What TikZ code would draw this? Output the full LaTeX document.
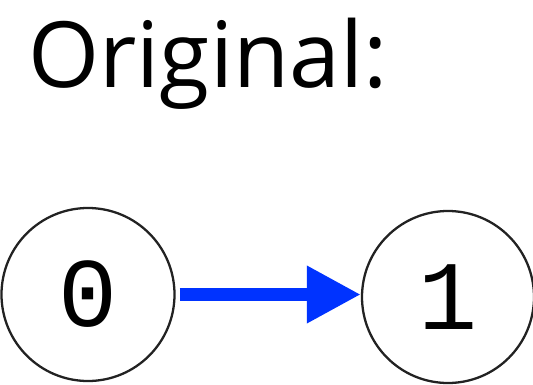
\documentclass[tikz,border=0pt]{standalone}
\usepackage{fontspec}
\setmainfont{Open Sans}
\newfontfamily\digitfont{Liberation Mono}
\usepackage{tikz}
\usetikzlibrary{arrows.meta, shapes, positioning, calc}

\definecolor{edgeblue}{RGB}{0,51,255}
\definecolor{ringgray}{RGB}{34,34,34}

\begin{document}
\begin{tikzpicture}[>={Triangle[length=1.08cm,width=1.08cm]},
            state/.style={circle, draw=ringgray, line width=1.3pt, fill=white, inner sep=0pt,
                          font=\digitfont\fontsize{56}{56}\selectfont}]
            \useasboundingbox (0,0) rectangle (10.66,-7.68);

            \node [anchor=base west, inner sep=0pt, font=\fontsize{52}{52}\selectfont] at (0.56,-1.74) (title) {Original:};

             \node [state, minimum size=3.46cm] at (1.76,-5.89) (s0) {0};
             \node [state, minimum size=3.44cm] at (8.96,-5.94) (s1) {1};

             \tikzstyle{edge} = [draw=edgeblue, line width=0.26cm, ->, shorten <=0.08cm]
             \draw [edge] (s0.east) -- (s0.east -| s1.west);
         \end{tikzpicture}
\end{document}
